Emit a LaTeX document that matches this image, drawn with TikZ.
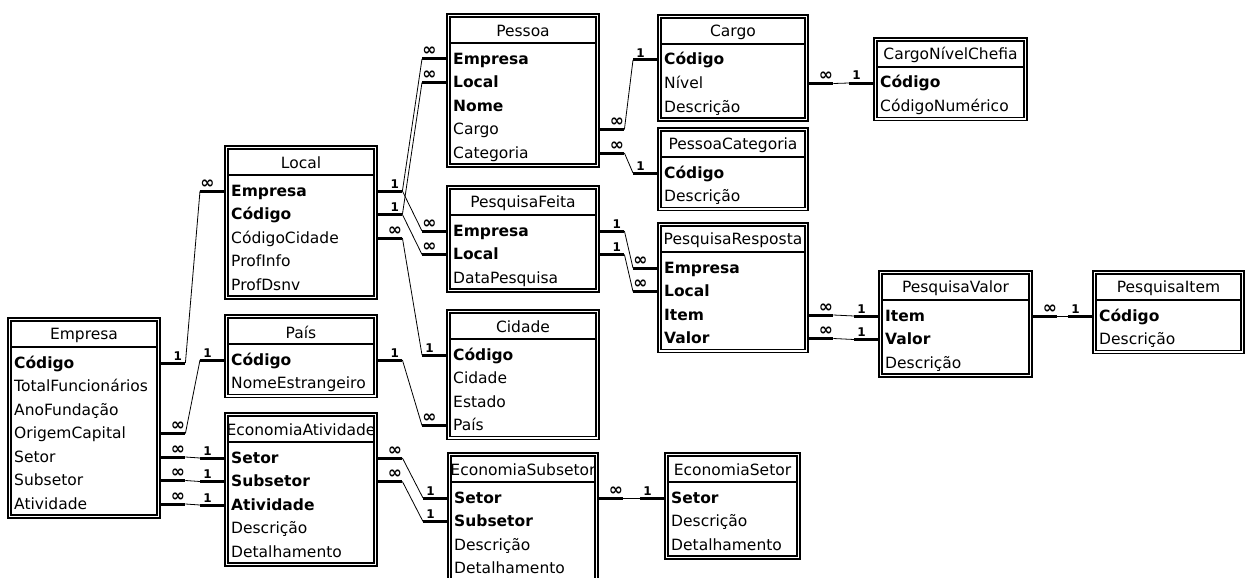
\documentclass[tikz,border=0pt]{standalone}
\usepackage{fontspec}
\setmainfont{DejaVu Sans}
\newcommand{\manyend}{{\fontsize{17}{17}\selectfont ∞}}

\begin{document}
\begin{tikzpicture}[x=1pt, y=-1pt, font=\fontsize{15.5}{18}\selectfont,
	frame/.style={line width=1.1pt},
	field/.style={anchor=west, inner xsep=6pt, inner ysep=0pt, text width=#1, align=left, text height=11pt, text depth=1pt},
	keyend/.style={line width=3pt},
	link/.style={line width=0.8pt},
	card/.style={pos=0.7, above, inner sep=1.5pt, font=\fontsize{12}{12}\selectfont\bfseries}]

	\useasboundingbox (0,0) rectangle (1247,578);
	\clip (0,0) rectangle (1247,578);

	% Empresa
	\draw[frame] (8,318) rectangle (160,518);
	\draw[frame] (11,321) rectangle (157,515);
	\draw[frame] (11,347) -- (157,347);
	\node (emp) at (84,335) {Empresa};
	\node[field=140pt] (emp-cod) at (8,363)   {\textbf{Código}};
	\node[field=140pt] (emp-tot) at (8,386.5) {TotalFuncionários};
	\node[field=140pt] (emp-ano) at (8,410)   {AnoFundação};
	\node[field=140pt] (emp-ori) at (8,433.5) {OrigemCapital};
	\node[field=140pt] (emp-set) at (8,457)   {Setor};
	\node[field=140pt] (emp-sub) at (8,480.5) {Subsetor};
	\node[field=140pt] (emp-ati) at (8,504)   {Atividade};

	% Local
	\draw[frame] (225,146) rectangle (377,299);
	\draw[frame] (228,149) rectangle (374,296);
	\draw[frame] (228,175) -- (374,175);
	\node (loc) at (301,163) {Local};
	\node[field=140pt] (loc-emp) at (225,191)   {\textbf{Empresa}};
	\node[field=140pt] (loc-cod) at (225,214.5) {\textbf{Código}};
	\node[field=140pt] (loc-cci) at (225,238)   {CódigoCidade};
	\node[field=140pt] (loc-pin) at (225,261.5) {ProfInfo};
	\node[field=140pt] (loc-pds) at (225,285)   {ProfDsnv};

	% País
	\draw[frame] (225,315) rectangle (377,397.5);
	\draw[frame] (228,318) rectangle (374,394.5);
	\draw[frame] (228,344) -- (374,344);
	\node (pai) at (301,332) {País};
	\node[field=140pt] (pai-cod) at (225,360)   {\textbf{Código}};
	\node[field=140pt] (pai-nom) at (225,383.5) {NomeEstrangeiro};

	% EconomiaAtividade
	\draw[frame] (225,413) rectangle (377,566);
	\draw[frame] (228,416) rectangle (374,563);
	\draw[frame] (228,442) -- (374,442);
	\node (eat) at (301,430) {EconomiaAtividade};
	\node[field=140pt] (eat-set) at (225,458)   {\textbf{Setor}};
	\node[field=140pt] (eat-sub) at (225,481.5) {\textbf{Subsetor}};
	\node[field=140pt] (eat-ati) at (225,505)   {\textbf{Atividade}};
	\node[field=140pt] (eat-des) at (225,528.5) {Descrição};
	\node[field=140pt] (eat-det) at (225,552)   {Detalhamento};

	% Pessoa
	\draw[frame] (447,14) rectangle (599,167);
	\draw[frame] (450,17) rectangle (596,164);
	\draw[frame] (450,43) -- (596,43);
	\node (pes) at (523,31) {Pessoa};
	\node[field=140pt] (pes-emp) at (447,59)    {\textbf{Empresa}};
	\node[field=140pt] (pes-loc) at (447,82.5)  {\textbf{Local}};
	\node[field=140pt] (pes-nom) at (447,106)   {\textbf{Nome}};
	\node[field=140pt] (pes-car) at (447,129.5) {Cargo};
	\node[field=140pt] (pes-cat) at (447,153)   {Categoria};

	% PesquisaFeita
	\draw[frame] (447,186) rectangle (599,292);
	\draw[frame] (450,189) rectangle (596,289);
	\draw[frame] (450,215) -- (596,215);
	\node (pfe) at (523,203) {PesquisaFeita};
	\node[field=140pt] (pfe-emp) at (447,231)   {\textbf{Empresa}};
	\node[field=140pt] (pfe-loc) at (447,254.5) {\textbf{Local}};
	\node[field=140pt] (pfe-dat) at (447,278)   {DataPesquisa};

	% Cidade
	\draw[frame] (447,310) rectangle (599,439.5);
	\draw[frame] (450,313) rectangle (596,436.5);
	\draw[frame] (450,339) -- (596,339);
	\node (cid) at (523,327) {Cidade};
	\node[field=140pt] (cid-cod) at (447,355)   {\textbf{Código}};
	\node[field=140pt] (cid-cid) at (447,378.5) {Cidade};
	\node[field=140pt] (cid-est) at (447,402)   {Estado};
	\node[field=140pt] (cid-pai) at (447,425.5) {País};

	% EconomiaSubsetor
	\draw[frame] (448,453) rectangle (598,582.5);
	\draw[frame] (451,456) rectangle (595,579.5);
	\draw[frame] (451,482) -- (595,482);
	\node (esu) at (523,470) {EconomiaSubsetor};
	\node[field=138pt] (esu-set) at (448,498)   {\textbf{Setor}};
	\node[field=138pt] (esu-sub) at (448,521.5) {\textbf{Subsetor}};
	\node[field=138pt] (esu-des) at (448,545)   {Descrição};
	\node[field=138pt] (esu-det) at (448,568.5) {Detalhamento};

	% Cargo
	\draw[frame] (658,15) rectangle (808,121);
	\draw[frame] (661,18) rectangle (805,118);
	\draw[frame] (661,44) -- (805,44);
	\node (crg) at (733,32) {Cargo};
	\node[field=138pt] (crg-cod) at (658,60)   {\textbf{Código}};
	\node[field=138pt] (crg-niv) at (658,83.5) {Nível};
	\node[field=138pt] (crg-des) at (658,107)  {Descrição};

	% PessoaCategoria
	\draw[frame] (658,128) rectangle (808,210.5);
	\draw[frame] (661,131) rectangle (805,207.5);
	\draw[frame] (661,157) -- (805,157);
	\node (pca) at (733,145) {PessoaCategoria};
	\node[field=138pt] (pca-cod) at (658,173)   {\textbf{Código}};
	\node[field=138pt] (pca-des) at (658,196.5) {Descrição};

	% CargoNívelChefia
	\draw[frame] (874,38) rectangle (1027,120.5);
	\draw[frame] (877,41) rectangle (1024,117.5);
	\draw[frame] (877,67) -- (1024,67);
	\node (cnc) at (950.5,55) {CargoNívelChefia};
	\node[field=141pt] (cnc-cod) at (874,83)    {\textbf{Código}};
	\node[field=141pt] (cnc-num) at (874,106.5) {CódigoNumérico};

	% PesquisaResposta
	\draw[frame] (658,223) rectangle (808,352.5);
	\draw[frame] (661,226) rectangle (805,349.5);
	\draw[frame] (661,252) -- (805,252);
	\node (prs) at (733,240) {PesquisaResposta};
	\node[field=138pt] (prs-emp) at (658,268)   {\textbf{Empresa}};
	\node[field=138pt] (prs-loc) at (658,291.5) {\textbf{Local}};
	\node[field=138pt] (prs-ite) at (658,315)   {\textbf{Item}};
	\node[field=138pt] (prs-val) at (658,338.5) {\textbf{Valor}};

	% PesquisaValor
	\draw[frame] (879,271) rectangle (1032,377);
	\draw[frame] (882,274) rectangle (1029,374);
	\draw[frame] (882,300) -- (1029,300);
	\node (pva) at (955.5,288) {PesquisaValor};
	\node[field=141pt] (pva-ite) at (879,316)   {\textbf{Item}};
	\node[field=141pt] (pva-val) at (879,339.5) {\textbf{Valor}};
	\node[field=141pt] (pva-des) at (879,363)   {Descrição};

	% PesquisaItem
	\draw[frame] (1093,271) rectangle (1244,353.5);
	\draw[frame] (1096,274) rectangle (1241,350.5);
	\draw[frame] (1096,300) -- (1241,300);
	\node (pit) at (1168.5,288) {PesquisaItem};
	\node[field=139pt] (pit-cod) at (1093,316)   {\textbf{Código}};
	\node[field=139pt] (pit-des) at (1093,339.5) {Descrição};

	% EconomiaSetor
	\draw[frame] (665,453) rectangle (800,559);
	\draw[frame] (668,456) rectangle (797,556);
	\draw[frame] (668,482) -- (797,482);
	\node (ese) at (732.5,470) {EconomiaSetor};
	\node[field=123pt] (ese-set) at (665,498)   {\textbf{Setor}};
	\node[field=123pt] (ese-des) at (665,521.5) {Descrição};
	\node[field=123pt] (ese-det) at (665,545)   {Detalhamento};

	% relationships: thick key ends, thin links
	\draw[keyend] (emp-cod.east) -- node[card] {1} ++(25,0) coordinate (emp-cod-r);
	\draw[keyend] (loc-emp.west) -- node[card] {\manyend} ++(-25,0) coordinate (loc-emp-l);
	\draw[link] (emp-cod-r) -- (loc-emp-l);

	\draw[keyend] (emp-ori.east) -- node[card] {\manyend} ++(25,0) coordinate (emp-ori-r);
	\draw[keyend] (pai-cod.west) -- node[card] {1} ++(-25,0) coordinate (pai-cod-l);
	\draw[link] (emp-ori-r) -- (pai-cod-l);

	\draw[keyend] (emp-set.east) -- node[card] {\manyend} ++(25,0) coordinate (emp-set-r);
	\draw[keyend] (eat-set.west) -- node[card] {1} ++(-25,0) coordinate (eat-set-l);
	\draw[link] (emp-set-r) -- (eat-set-l);

	\draw[keyend] (emp-sub.east) -- node[card] {\manyend} ++(25,0) coordinate (emp-sub-r);
	\draw[keyend] (eat-sub.west) -- node[card] {1} ++(-25,0) coordinate (eat-sub-l);
	\draw[link] (emp-sub-r) -- (eat-sub-l);

	\draw[keyend] (emp-ati.east) -- node[card] {\manyend} ++(25,0) coordinate (emp-ati-r);
	\draw[keyend] (eat-ati.west) -- node[card] {1} ++(-25,0) coordinate (eat-ati-l);
	\draw[link] (emp-ati-r) -- (eat-ati-l);

	\draw[keyend] (loc-emp.east) -- node[card] {1} ++(25,0) coordinate (loc-emp-r);
	\draw[keyend] (loc-cod.east) -- node[card] {1} ++(25,0) coordinate (loc-cod-r);
	\draw[keyend] (pes-emp.west) -- node[card] {\manyend} ++(-25,0) coordinate (pes-emp-l);
	\draw[keyend] (pes-loc.west) -- node[card] {\manyend} ++(-25,0) coordinate (pes-loc-l);
	\draw[keyend] (pfe-emp.west) -- node[card] {\manyend} ++(-25,0) coordinate (pfe-emp-l);
	\draw[keyend] (pfe-loc.west) -- node[card] {\manyend} ++(-25,0) coordinate (pfe-loc-l);
	\draw[link] (loc-emp-r) -- (pes-emp-l);
	\draw[link] (loc-cod-r) -- (pes-loc-l);
	\draw[link] (loc-emp-r) -- (pfe-emp-l);
	\draw[link] (loc-cod-r) -- (pfe-loc-l);

	\draw[keyend] (loc-cci.east) -- node[card] {\manyend} ++(25,0) coordinate (loc-cci-r);
	\draw[keyend] (cid-cod.west) -- node[card] {1} ++(-25,0) coordinate (cid-cod-l);
	\draw[link] (loc-cci-r) -- (cid-cod-l);

	\draw[keyend] (pai-cod.east) -- node[card] {1} ++(25,0) coordinate (pai-cod-r);
	\draw[keyend] (cid-pai.west) -- node[card] {\manyend} ++(-25,0) coordinate (cid-pai-l);
	\draw[link] (pai-cod-r) -- (cid-pai-l);

	\draw[keyend] (pes-car.east) -- node[card] {\manyend} ++(25,0) coordinate (pes-car-r);
	\draw[keyend] (crg-cod.west) -- node[card] {1} ++(-25,0) coordinate (crg-cod-l);
	\draw[link] (pes-car-r) -- (crg-cod-l);

	\draw[keyend] (pes-cat.east) -- node[card] {\manyend} ++(25,0) coordinate (pes-cat-r);
	\draw[keyend] (pca-cod.west) -- node[card] {1} ++(-25,0) coordinate (pca-cod-l);
	\draw[link] (pes-cat-r) -- (pca-cod-l);

	\draw[keyend] (crg-niv.east) -- node[card] {\manyend} ++(25,0) coordinate (crg-niv-r);
	\draw[keyend] (cnc-cod.west) -- node[card] {1} ++(-25,0) coordinate (cnc-cod-l);
	\draw[link] (crg-niv-r) -- (cnc-cod-l);

	\draw[keyend] (pfe-emp.east) -- node[card] {1} ++(25,0) coordinate (pfe-emp-r);
	\draw[keyend] (prs-emp.west) -- node[card] {\manyend} ++(-25,0) coordinate (prs-emp-l);
	\draw[link] (pfe-emp-r) -- (prs-emp-l);

	\draw[keyend] (pfe-loc.east) -- node[card] {1} ++(25,0) coordinate (pfe-loc-r);
	\draw[keyend] (prs-loc.west) -- node[card] {\manyend} ++(-25,0) coordinate (prs-loc-l);
	\draw[link] (pfe-loc-r) -- (prs-loc-l);

	\draw[keyend] (prs-ite.east) -- node[card] {\manyend} ++(25,0) coordinate (prs-ite-r);
	\draw[keyend] (pva-ite.west) -- node[card] {1} ++(-25,0) coordinate (pva-ite-l);
	\draw[link] (prs-ite-r) -- (pva-ite-l);

	\draw[keyend] (prs-val.east) -- node[card] {\manyend} ++(25,0) coordinate (prs-val-r);
	\draw[keyend] (pva-val.west) -- node[card] {1} ++(-25,0) coordinate (pva-val-l);
	\draw[link] (prs-val-r) -- (pva-val-l);

	\draw[keyend] (pva-ite.east) -- node[card] {\manyend} ++(25,0) coordinate (pva-ite-r);
	\draw[keyend] (pit-cod.west) -- node[card] {1} ++(-25,0) coordinate (pit-cod-l);
	\draw[link] (pva-ite-r) -- (pit-cod-l);

	\draw[keyend] (eat-set.east) -- node[card] {\manyend} ++(25,0) coordinate (eat-set-r);
	\draw[keyend] (esu-set.west) -- node[card] {1} ++(-25,0) coordinate (esu-set-l);
	\draw[link] (eat-set-r) -- (esu-set-l);

	\draw[keyend] (eat-sub.east) -- node[card] {\manyend} ++(25,0) coordinate (eat-sub-r);
	\draw[keyend] (esu-sub.west) -- node[card] {1} ++(-25,0) coordinate (esu-sub-l);
	\draw[link] (eat-sub-r) -- (esu-sub-l);

	\draw[keyend] (esu-set.east) -- node[card] {\manyend} ++(25,0) coordinate (esu-set-r);
	\draw[keyend] (ese-set.west) -- node[card] {1} ++(-25,0) coordinate (ese-set-l);
	\draw[link] (esu-set-r) -- (ese-set-l);

\end{tikzpicture}
\end{document}
